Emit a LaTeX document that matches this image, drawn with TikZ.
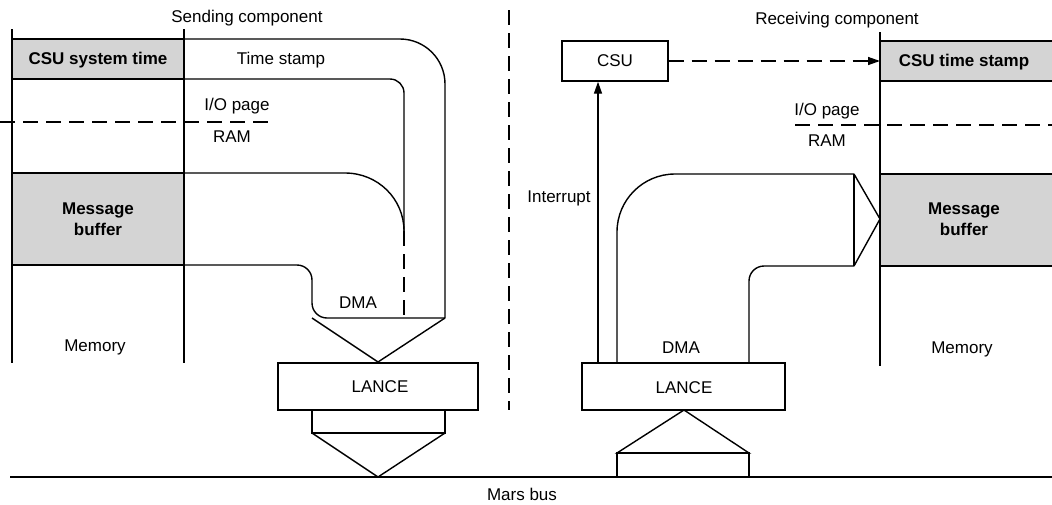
\documentclass[tikz,border=0pt]{standalone}
\usepackage{fontspec}
\setmainfont{Liberation Sans}
\usetikzlibrary{arrows.meta}
\tikzset{
  wire/.style={line width=1.4pt, line join=miter},
  dashwire/.style={line width=1.4pt, dash pattern=on 15pt off 8pt},
  shaded/.style={fill=black!17, draw=black, line width=1.4pt},
  box/.style={draw=black, fill=white, line width=1.4pt, inner sep=0pt},
  lbl/.style={inner sep=0pt, font=\fontsize{17}{21}\selectfont, align=center},
  blbl/.style={lbl, font=\fontsize{17}{21}\selectfont\bfseries},
  arr/.style={-{Triangle[length=12pt,width=8pt]}}
}
\begin{document}
\begin{tikzpicture}[x=1pt,y=-1pt]
\useasboundingbox (0,0) rectangle (1052,504);

% ---------------- sending component ----------------
\node[lbl] (sendtitle) at (247,18) {Sending component};
% memory columns
\draw[wire] (12,29) -- (12,363);
\draw[wire] (184,29) -- (184,363);
% shaded memory fields
\draw[shaded] (12,39) rectangle (184,79);
\node[blbl] (systime) at (98,60) {CSU system time};
\draw[shaded] (12,173) rectangle (184,265);
\node[blbl] (sendbuf) at (98,219) {Message\\buffer};
\node[lbl] (sendmem) at (95,347) {Memory};
% I/O page / RAM boundary
\draw[dashwire] (0,122) -- (269,122);
\node[lbl] (sendio) at (237,106) {I/O page};
\node[lbl] (sendram) at (232,137) {RAM};
% time stamp channel
\node[lbl] (stamp) at (281,60) {Time stamp};
\draw[wire, rounded corners=45pt] (184,39) -- (445,39) -- (445,318);
\draw[wire, rounded corners=14pt] (184,79) -- (404,79) -- (404,231);
\draw[dashwire] (404,231) -- (404,318);
% message channel
\draw[wire] (184,173) -- (345,173) .. controls (378,173) and (404,199) .. (404,231);
\draw[wire, rounded corners=15pt] (184,265) -- (312,265) -- (312,318) -- (445,318);
\node[lbl] (senddma) at (358,303) {DMA};
% funnel into the LANCE
\draw[wire] (312,318) -- (378,362) -- (445,318);
\node[box, minimum width=200pt, minimum height=47pt] (sendlance) at (378,386.5) {};
\node[lbl] (sendlancetxt) at (380,387) {LANCE};
% LANCE onto the bus
\draw[wire] (312,410) -- (312,433) -- (445,433) -- (445,410);
\draw[wire] (312,433) -- (378,477) -- (445,433);

% ---------------- divider and bus ----------------
\draw[dashwire] (509,10) -- (509,410);
\draw[wire] (10,477) -- (1052,477);
\node[lbl] (bus) at (522,494) {Mars bus};

% ---------------- receiving component ----------------
\node[lbl] (recvtitle) at (837,20) {Receiving component};
\draw[wire] (880,32) -- (880,366);
\fill[black!17] (880,41) rectangle (1052,81);
\draw[wire] (1052,41) -- (880,41) -- (880,81) -- (1052,81);
\node[blbl] (recvstamp) at (964,62) {CSU time stamp};
\fill[black!17] (880,174) rectangle (1052,266);
\draw[wire] (1052,174) -- (880,174) -- (880,266) -- (1052,266);
\node[blbl] (recvbuf) at (964,219) {Message\\buffer};
\node[lbl] (recvmem) at (962,349) {Memory};
\draw[dashwire] (795,125) -- (1052,125);
\node[lbl] (recvio) at (827,111) {I/O page};
\node[lbl] (recvram) at (827,141) {RAM};
% CSU writes the receive time
\node[box, minimum width=106pt, minimum height=40pt] (csu) at (615,61) {};
\node[lbl] (csutxt) at (615,61) {CSU};
\coordinate (stampin) at (880,61);
\draw[dashwire, arr] (csu.east) -- (stampin);
% LANCE on the receiving side
\node[box, minimum width=203pt, minimum height=47pt] (recvlance) at (683.5,386.5) {};
\node[lbl] (recvlancetxt) at (684,388) {LANCE};
\draw[wire, arr] (recvlance.north -| 598,0) -- (csu.south -| 598,0);
\node[lbl] (interrupt) at (559,198) {Interrupt};
% DMA channel into the message buffer
\draw[wire] (617,363) -- (617,232) .. controls (617,200) and (643,174) .. (675,174) -- (854,174);
\draw[wire, rounded corners=15pt] (854,266) -- (749,266) -- (749,363);
\draw[wire] (854,174) -- (854,266);
\draw[wire] (854,174) -- (880,219) -- (854,266);
\node[lbl] (recvdma) at (681,348) {DMA};
% bus into the LANCE
\draw[wire] (617,453) -- (684,410) -- (749,453) -- cycle;
\draw[wire] (617,477) -- (617,453) -- (749,453) -- (749,477);
\end{tikzpicture}
\end{document}
